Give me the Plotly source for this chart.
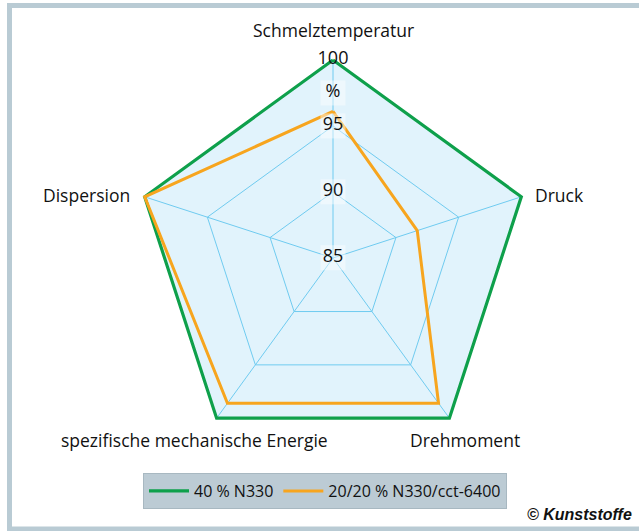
import plotly.graph_objects as go

# ---- data ----
categories = ["Schmelztemperatur", "Druck", "Drehmoment",
              "spezifische mechanische Energie", "Dispersion"]
series_names = ["40 % N330", "20/20 % N330/cct-6400"]
values_n330 = [100, 100, 100, 100, 100]
values_cct = [96.1, 91.7, 98.6, 98.6, 100]
tick_values = [85, 90, 95, 100]
tick_labels = ["85", "90", "95", "100"]
unit_label = "%"
unit_value = 97.5

W, H = 639, 531
GREEN = "#0ea04b"
ORANGE = "#f7a51e"
GRID = "#6fcbf0"
FILL = "#e1f3fc"
FONT = "Open Sans, Noto Sans, sans-serif"

def px(x):
    return x / W

def py(y):
    return 1 - y / H

fig = go.Figure()

fig.add_trace(go.Scatterpolar(
    r=values_n330 + values_n330[:1], theta=categories + categories[:1],
    mode="lines", name=series_names[0],
    line=dict(color=GREEN, width=3.2), subplot="polar2"))
fig.add_trace(go.Scatterpolar(
    r=values_cct + values_cct[:1], theta=categories + categories[:1],
    mode="lines", name=series_names[1],
    line=dict(color=ORANGE, width=3), subplot="polar2"))

# radial tick labels on the top axis (with faint background boxes)
lab_r = tick_values[:-1] + [unit_value]
lab_t = tick_labels[:-1] + [unit_label]
fig.add_trace(go.Scatterpolar(
    r=lab_r, theta=[categories[0]] * len(lab_r),
    mode="markers", marker=dict(symbol="square", size=25,
                                color="rgba(255,255,255,0.45)"),
    showlegend=False, hoverinfo="skip", cliponaxis=False, subplot="polar2"))
fig.add_trace(go.Scatterpolar(
    r=tick_values + [unit_value], theta=[categories[0]] * (len(tick_values) + 1),
    mode="text", text=tick_labels + [unit_label], textposition="middle center",
    textfont=dict(family=FONT, size=18, color="#111"),
    showlegend=False, hoverinfo="skip", cliponaxis=False, subplot="polar2"))

# dummy trace so the grid polar exists with the same categories
fig.add_trace(go.Scatterpolar(
    r=values_n330, theta=categories, mode="lines",
    line=dict(width=0, color="rgba(0,0,0,0)"),
    showlegend=False, hoverinfo="skip", subplot="polar"))

cx, cy, R = 333, 258, 198
rmin, rmax, rmax2 = 84.98, 100, 100.3
R2 = R * (rmax2 - rmin) / (rmax - rmin)

def dom(rad, dy=0):
    return dict(x=[px(cx - rad), px(cx + rad)],
                y=[py(cy + rad), py(cy - rad)])

hidden_ang = dict(direction="clockwise", rotation=90, showticklabels=False,
                  ticks="", showline=False, showgrid=False)
fig.update_layout(
    width=W, height=H, autosize=False,
    margin=dict(l=0, r=0, t=0, b=0),
    paper_bgcolor="white",
    font=dict(family=FONT, size=16, color="#111"),
    polar=dict(
        domain=dom(R),
        gridshape="linear",
        bgcolor=FILL,
        radialaxis=dict(range=[rmin, rmax], tickvals=tick_values[1:],
                        showticklabels=False, ticks="", showline=False,
                        gridcolor=GRID, gridwidth=1.4, angle=90),
        angularaxis=dict(direction="clockwise", rotation=90,
                         showticklabels=False, ticks="", showline=False,
                         gridcolor=GRID, gridwidth=1.4),
    ),
    polar2=dict(
        domain=dom(R2),
        gridshape="linear",
        bgcolor="rgba(0,0,0,0)",
        radialaxis=dict(range=[rmin, rmax2], showticklabels=False, ticks="",
                        showline=False, showgrid=False, angle=90),
        angularaxis=hidden_ang,
    ),
    legend=dict(orientation="h", x=px(325), y=py(491),
                xanchor="center", yanchor="middle",
                bgcolor="#bccbd4", bordercolor="#a8b8c1", borderwidth=1,
                font=dict(family=FONT, size=16, color="#111"),
                itemwidth=40),
    showlegend=True,
)

# axis category labels
label_pos = [(333, 30, "center"), (533, 195, "left"), (465, 440, "center"),
             (330, 440, "right"), (132, 195, "right")]
for cat, (x, y, anchor) in zip(categories, label_pos):
    fig.add_annotation(text=cat, x=px(x), y=py(y), xref="paper", yref="paper",
                       xanchor=anchor, yanchor="middle", showarrow=False,
                       font=dict(family=FONT, size=17.5, color="#111"))

fig.add_annotation(text="<b><i>© Kunststoffe</i></b>", x=px(634), y=py(514),
                   xref="paper", yref="paper", xanchor="right", yanchor="middle",
                   showarrow=False,
                   font=dict(family="Liberation Sans Narrow, Liberation Sans, sans-serif",
                             size=16, color="#111"))

# outer frame
fig.add_shape(type="rect", xref="paper", yref="paper",
              x0=px(9.5), x1=px(645), y0=py(529), y1=py(5.5),
              line=dict(color="#b9cbd4", width=5), layer="below")

fig.write_html("out.html", config={"displayModeBar": False},
               post_script="document.body.style.margin='0';"
                           "document.body.style.overflow='hidden';")
